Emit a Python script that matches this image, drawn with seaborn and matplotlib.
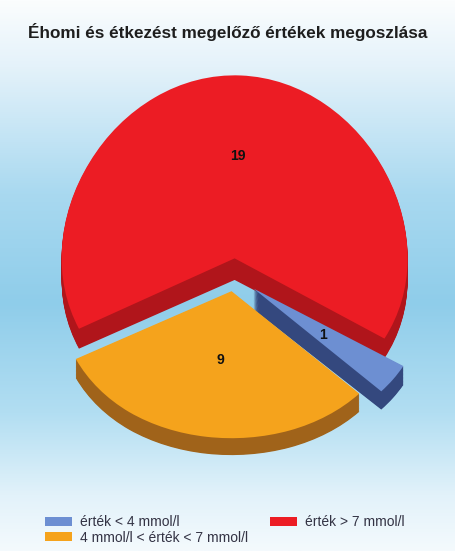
import numpy as np
import matplotlib
matplotlib.use("Agg")
import matplotlib.pyplot as plt
import seaborn as sns
from matplotlib.colors import LinearSegmentedColormap

sns.set_theme(style="white")
plt.rcParams['font.family'] = ['Liberation Sans', 'DejaVu Sans']

# ---- data ----
title = "Éhomi és étkezést megelőző értékek megoszlása"
categories = ["érték < 4 mmol/l", "4 mmol/l < érték < 7 mmol/l", "érték > 7 mmol/l"]
values = [1, 9, 19]
top_colors = ["#6d8fd2", "#f5a31c", "#ec1c24"]
side_colors = ["#34487e", "#a0631a", "#b0151b"]
explode = [0.14, 0.10, 0.10]
label_dist = [0.50, 0.45, 0.58]

W, H, DPI = 456, 551, 100
fig = plt.figure(figsize=(W / DPI, H / DPI), dpi=DPI)

# background gradient
bg = fig.add_axes([0, 0, 1, 1], zorder=-1)
bg_cmap = LinearSegmentedColormap.from_list(
    "bg", [(0.0, "#fbfdfe"), (0.12, "#e4f2fa"), (0.35, "#a9d9f0"),
           (0.55, "#8fcdea"), (0.75, "#b2def2"), (0.9, "#e2f2fa"), (1.0, "#f4fafd")])
grad = np.linspace(0, 1, 256).reshape(-1, 1)
bg.imshow(grad, aspect="auto", cmap=bg_cmap, extent=[0, 1, 0, 1], origin="upper")
bg.set_axis_off()

ax = fig.add_axes([0, 0, 1, 1])
ax.patch.set_alpha(0)

total = sum(values)
start = 330.0
n_layers = 24
depth = 0.13
for k in range(n_layers, 0, -1):
    ax.pie(values, colors=side_colors, explode=explode, startangle=start,
           counterclock=False, center=(0, -depth * k / n_layers),
           wedgeprops=dict(linewidth=0, antialiased=True))

wedges, texts, autotexts = ax.pie(
    values, colors=top_colors, explode=explode, startangle=start,
    counterclock=False, autopct=lambda p: f"{round(p * total / 100)}",
    pctdistance=0.58,
    wedgeprops=dict(linewidth=0),
    textprops=dict(fontsize=10, fontweight="bold", color="#111111"))

# place value labels at per-slice distance from each wedge's own centre
for w, t, d in zip(wedges, autotexts, label_dist):
    th = np.deg2rad((w.theta1 + w.theta2) / 2)
    x0, y0 = w.center
    t.set_position((x0 + d * np.cos(th), y0 + d * np.sin(th)))

# perspective-like vertical scale (far side larger, near side compressed)
kq = 0.091
def fwd(v):
    v = np.asarray(v, dtype=float)
    return v + kq * v * v
def inv(y):
    y = np.asarray(y, dtype=float)
    y = np.maximum(y, -1 / (4 * kq) + 1e-9)
    return (-1 + np.sqrt(1 + 4 * kq * y)) / (2 * kq)

cx, cy, rx, ry = 234, 275, 173, 165
ax.set_aspect("auto")
ax.set_yscale("function", functions=(fwd, inv))
ax.set_xlim(-cx / rx, (W - cx) / rx)
ax.set_ylim(float(inv((cy - H) / ry)), float(inv(cy / ry)))
ax.set_axis_off()

fig.text(0.5, 1 - 32 / H, title, ha="center", va="center",
         fontsize=12.3, fontweight="bold", color="#1e1e1e")

leg = fig.legend([wedges[0], wedges[1], wedges[2]], categories, ncol=2,
                 loc="upper left", bbox_to_anchor=(45 / W, 1 - 515 / H),
                 frameon=False, fontsize=10, handlelength=1.95, handleheight=0.6,
                 handletextpad=0.55, columnspacing=1.6, labelspacing=0.12,
                 borderpad=0, borderaxespad=0)
for t in leg.get_texts():
    t.set_color("#333344")

fig.savefig("out.png", dpi=DPI)
